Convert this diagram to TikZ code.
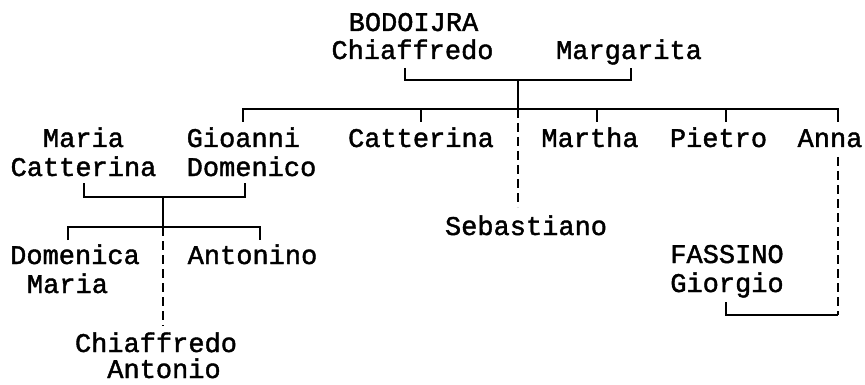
\documentclass[tikz,border=0pt]{standalone}
\usepackage{fontspec}
\setmonofont[FakeBold=1.5]{Liberation Mono}
\begin{document}
\begin{tikzpicture}[x=1pt,y=-1pt,
  person/.style={inner sep=0pt,anchor=base,font=\ttfamily\fontsize{27}{29}\selectfont},
  personw/.style={person,anchor=base west},
  link/.style={line width=1.6pt},
  dlink/.style={line width=1.6pt,dash pattern=on 9pt off 5pt}]
\useasboundingbox (0,0) rectangle (865,385);
% generation 1
\node[person] (bod) at (413.5,31) {BODOIJRA};
\node[person] (chia) at (412.5,59) {Chiaffredo};
\node[person] (marg) at (629,59) {Margarita};
% generation 2
\node[person] (maria) at (83.5,147) {Maria};
\node[person] (catm) at (83.5,176) {Catterina};
\node[personw] (gio) at (186.5,147) {Gioanni};
\node[personw] (dom) at (186.5,176) {Domenico};
\node[person] (catt) at (421,147) {Catterina};
\node[person] (mar) at (590,147) {Martha};
\node[person] (pie) at (718.5,147) {Pietro};
\node[person] (anna) at (830,147) {Anna};
\node[person] (seb) at (526,235) {Sebastiano};
\node[person] (fas) at (727,263) {FASSINO};
\node[person] (gior) at (727,292) {Giorgio};
% generation 3
\node[person] (domca) at (75,264) {Domenica};
\node[person] (mariab) at (67.5,293) {Maria};
\node[person] (anto) at (252.5,264) {Antonino};
\node[person] (chiab) at (156,352) {Chiaffredo};
\node[person] (antonio) at (164,378) {Antonio};
% junction coordinates
\coordinate (pa) at (405,68);
\coordinate (pb) at (631,68);
\coordinate (pj) at (518,80);
\coordinate (bar) at (518,109);
\coordinate (gioT) at (243,122);
\coordinate (cattT) at (421,122);
\coordinate (marT) at (597,122);
\coordinate (pieT) at (726,122);
\coordinate (annaT) at (838,122);
\coordinate (annaD) at (838,157);
\coordinate (sebE) at (518,207);
\coordinate (qa) at (84,183);
\coordinate (qb) at (245,183);
\coordinate (qj) at (163,197);
\coordinate (bar2) at (163,227);
\coordinate (domcaT) at (68,240);
\coordinate (antoT) at (260,240);
\coordinate (chiabE) at (163,326);
\coordinate (fasT) at (726,302);
\coordinate (fj) at (838,315);
% parents bracket
\draw[link] (pa) |- (pj) -| (pb);
\draw[link] (pj) -- (bar);
\draw[link] (gioT) |- (annaT |- bar) -- (annaT);
\draw[link] (cattT) -- (cattT |- bar);
\draw[link] (marT) -- (marT |- bar);
\draw[link] (pieT) -- (pieT |- bar);
\draw[dlink] (bar) -- (sebE);
% second family
\draw[link] (qa) |- (qj) -| (qb);
\draw[link] (qj) -- (bar2);
\draw[link] (domcaT) |- (bar2) -| (antoT);
\draw[dlink] (bar2) -- (chiabE);
% Anna and Fassino
\draw[dlink] (annaD) -- (fj);
\draw[link] (fasT) |- (fj);
\end{tikzpicture}
\end{document}
